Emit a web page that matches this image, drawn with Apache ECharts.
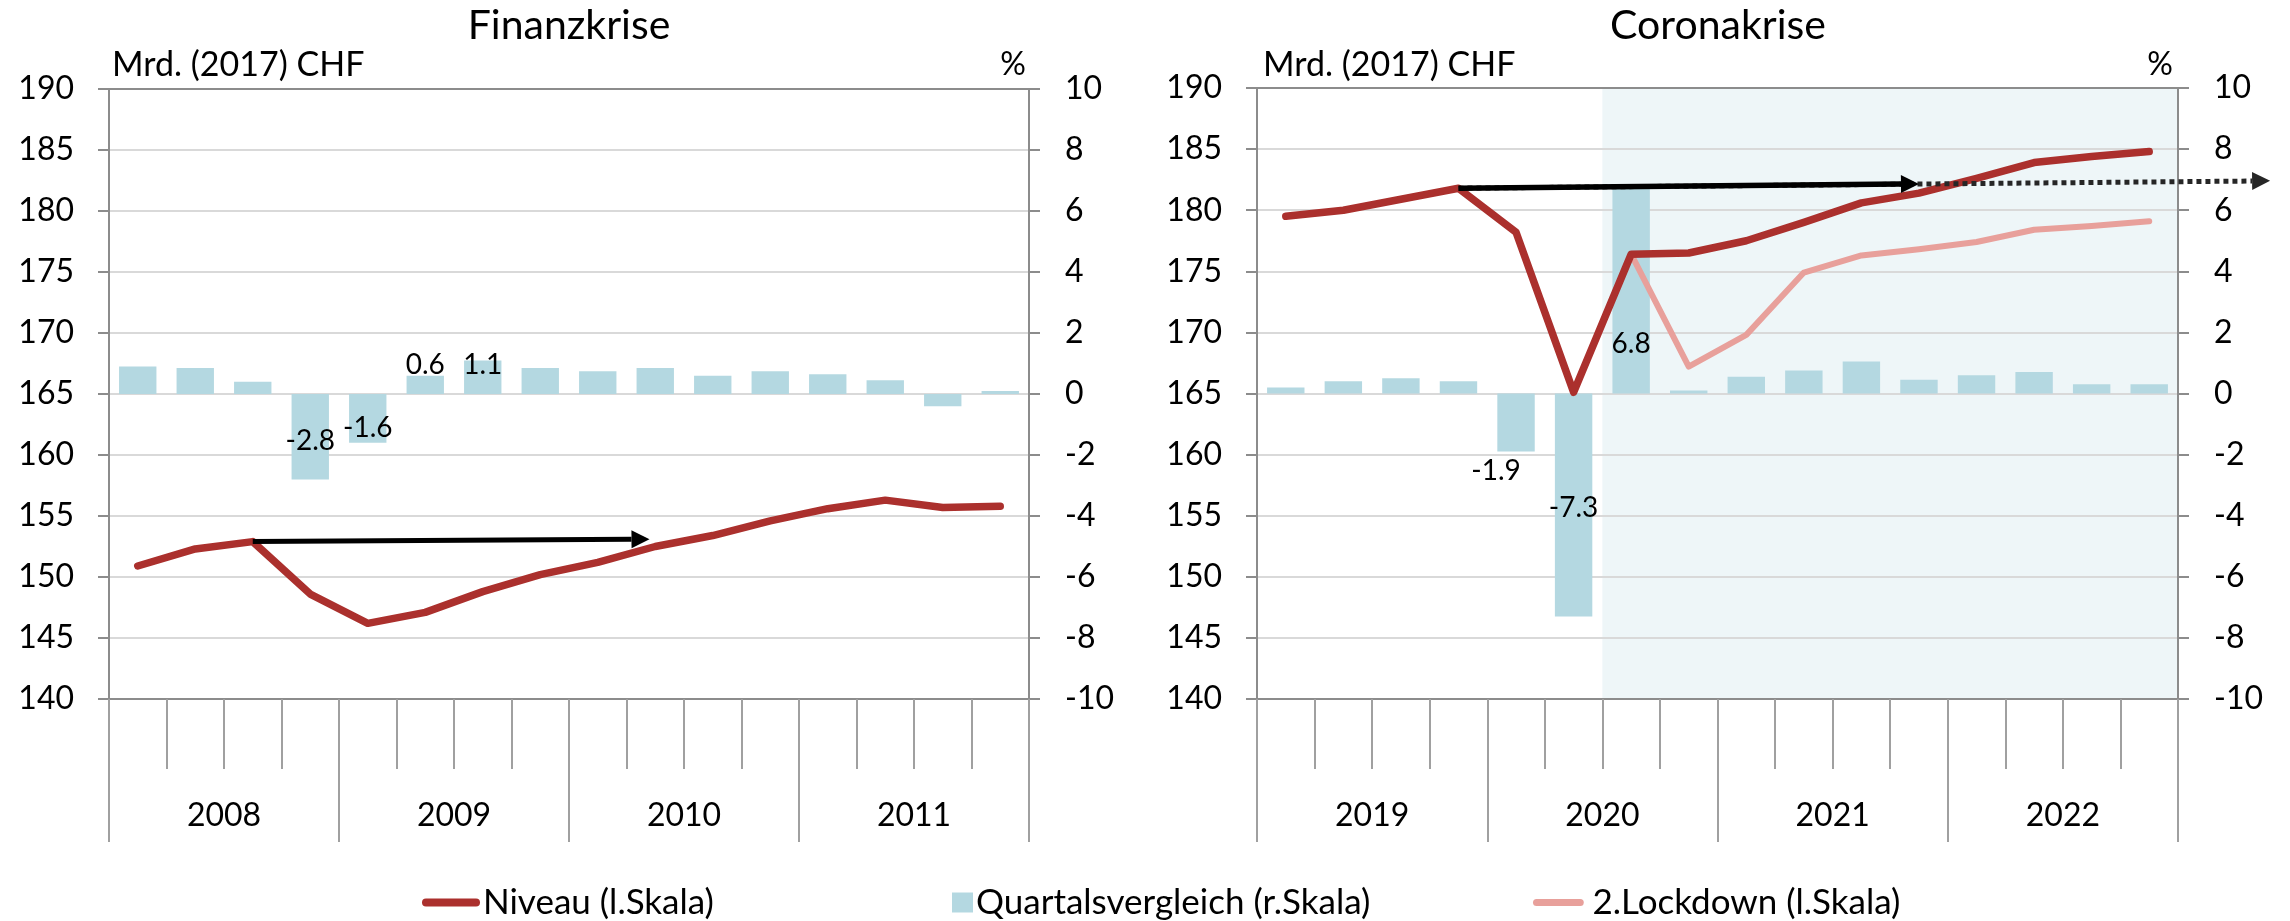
<!DOCTYPE html>
<html lang="de">
<head>
  <meta charset="utf-8" />
  <script src="https://cdn.jsdelivr.net/npm/echarts@6.0.0/dist/echarts.min.js"></script>
</head>
<body style="margin: 0; background: #ffffff">
  <div id="container" style="width: 2290px; height: 921px"></div>
  <script type="text/javascript">
    // Finanzkrise 2008-2011
    var quartersFin = ['2008Q1', '2008Q2', '2008Q3', '2008Q4', '2009Q1', '2009Q2', '2009Q3', '2009Q4',
      '2010Q1', '2010Q2', '2010Q3', '2010Q4', '2011Q1', '2011Q2', '2011Q3', '2011Q4'];
    var yearsFin = ['2008', '2009', '2010', '2011'];
    var levelFin = [150.9, 152.3, 152.9, 148.6, 146.2, 147.1, 148.8, 150.2, 151.2, 152.5, 153.4, 154.6, 155.6, 156.3, 155.7, 155.8];
    var growthFin = [0.9, 0.85, 0.4, -2.8, -1.6, 0.6, 1.1, 0.85, 0.75, 0.85, 0.6, 0.75, 0.65, 0.45, -0.4, 0.1];

    // Coronakrise 2019-2022
    var quartersCor = ['2019Q1', '2019Q2', '2019Q3', '2019Q4', '2020Q1', '2020Q2', '2020Q3', '2020Q4',
      '2021Q1', '2021Q2', '2021Q3', '2021Q4', '2022Q1', '2022Q2', '2022Q3', '2022Q4'];
    var yearsCor = ['2019', '2020', '2021', '2022'];
    var levelCor = [179.5, 180.0, 180.9, 181.8, 178.2, 165.1, 176.4, 176.5, 177.5, 179.0, 180.6, 181.4, 182.6, 183.9, 184.4, 184.8];
    var lockdownCor = [179.5, 180.0, 180.9, 181.8, null, null, 176.4, 167.2, 169.8, 174.9, 176.3, 176.8, 177.4, 178.4, 178.7, 179.1];
    var growthCor = [0.2, 0.4, 0.5, 0.4, -1.9, -7.3, 6.8, 0.1, 0.55, 0.75, 1.05, 0.45, 0.6, 0.7, 0.3, 0.3];

    // arrows: [quarter index, level]
    var arrowFin = [[2, 152.9], [8.9, 153.1]];
    var arrowCor = [[3, 181.8], [11.0, 182.15]];
    var arrowCorDotted = [[3, 181.8], [17.1, 182.4]];
    var shadeStartCor = '2020Q3';

    var NAME_LEVEL = 'Niveau (l.Skala)';
    var NAME_GROWTH = 'Quartalsvergleich (r.Skala)';
    var NAME_LOCK = '2.Lockdown (l.Skala)';

    var FONT = 'Lato';
    var RED = '#ab302d';
    var PINK = '#e8a09b';
    var BLUE = '#b4d8e1';
    var AXIS = '#8c8c8c';
    var GRID = '#d9d9d9';

    var dom = document.getElementById('container');
    var myChart = echarts.init(dom, null, { renderer: 'canvas' });

    function withLabels(values, offsets) {
      return values.map(function (v, i) {
        if (!offsets[i]) return v;
        return {
          value: v,
          label: { show: true, position: 'inside', offset: offsets[i] }
        };
      });
    }

    function quarterAxis(gridIndex, data) {
      return {
        type: 'category', gridIndex: gridIndex, data: data, position: 'bottom',
        boundaryGap: true,
        axisLine: { show: true, onZero: false, lineStyle: { color: AXIS, width: 2 } },
        axisTick: { show: true, interval: 0, length: 70, lineStyle: { color: '#a0a0a0', width: 2 } },
        axisLabel: { show: false },
        splitLine: { show: false }
      };
    }

    function yearAxis(gridIndex, data) {
      return {
        type: 'category', gridIndex: gridIndex, data: data, position: 'bottom',
        boundaryGap: true,
        axisLine: { show: false, onZero: false },
        axisTick: { show: true, interval: 0, length: 143, lineStyle: { color: '#a0a0a0', width: 2 } },
        axisLabel: { show: true, margin: 101, fontFamily: FONT, fontSize: 32, color: '#000' },
        splitLine: { show: false }
      };
    }

    function levelAxis(gridIndex) {
      return {
        type: 'value', gridIndex: gridIndex, position: 'left', min: 140, max: 190, interval: 5,
        axisLine: { show: true, lineStyle: { color: AXIS, width: 2 } },
        axisTick: { show: true, length: 11, lineStyle: { color: AXIS, width: 2 } },
        axisLabel: { margin: 35, fontFamily: FONT, fontSize: 32, color: '#000' },
        splitLine: { show: true, showMinLine: false, showMaxLine: false, lineStyle: { color: GRID, width: 2 } }
      };
    }

    function pctAxis(gridIndex) {
      return {
        type: 'value', gridIndex: gridIndex, position: 'right', min: -10, max: 10, interval: 2,
        axisLine: { show: true, lineStyle: { color: AXIS, width: 2 } },
        axisTick: { show: true, length: 11, lineStyle: { color: AXIS, width: 2 } },
        axisLabel: { margin: 36, fontFamily: FONT, fontSize: 32, color: '#000' },
        splitLine: { show: false }
      };
    }

    function dummyAxis(gridIndex) {
      return { type: 'value', gridIndex: gridIndex, show: false, min: 0, max: 1 };
    }

    var gridFin = { left: 109, top: 89, width: 920, height: 610 };
    var gridCor = { left: 1257, top: 88, width: 921, height: 611 };

    var barLabel = { show: false, fontFamily: FONT, fontSize: 28, color: '#000',
      formatter: function (p) { return p.value.toFixed(1); } };

    var lineStyleRed = { color: RED, width: 7.5, cap: 'round', join: 'round' };

    var legendBase = {
      top: 885, padding: 0, selectedMode: false,
      textStyle: { fontFamily: FONT, fontSize: 35, color: '#000', padding: [0, 0, 0, -2] }
    };
    var pillIcon = 'path://M4,0 H54 A4,4 0 0 1 54,8 H4 A4,4 0 0 1 4,0 Z';

    var option = {
      animation: false,
      backgroundColor: '#ffffff',
      textStyle: { fontFamily: FONT },
      grid: [
        Object.assign({ show: true, borderColor: AXIS, borderWidth: 2, backgroundColor: 'transparent' }, gridFin),
        Object.assign({ show: true, borderColor: AXIS, borderWidth: 2, backgroundColor: 'transparent' }, gridCor),
        Object.assign({ show: false }, gridFin),
        Object.assign({ show: false }, gridCor)
      ],
      xAxis: [
        quarterAxis(0, quartersFin),
        quarterAxis(1, quartersCor),
        yearAxis(2, yearsFin),
        yearAxis(3, yearsCor)
      ],
      yAxis: [
        levelAxis(0), pctAxis(0),
        levelAxis(1), pctAxis(1),
        dummyAxis(2), dummyAxis(3)
      ],
      legend: [
        Object.assign({ left: 422, data: [{ name: NAME_LEVEL, icon: pillIcon }], itemWidth: 58, itemHeight: 9 }, legendBase),
        Object.assign({ left: 952, data: [{ name: NAME_GROWTH, icon: 'rect' }], itemWidth: 21, itemHeight: 20 }, legendBase),
        Object.assign({ left: 1533, data: [{ name: NAME_LOCK, icon: pillIcon }], itemWidth: 62, itemHeight: 7 }, legendBase)
      ],
      graphic: [
        { type: 'text', x: 569, y: 26, style: { text: 'Finanzkrise', font: '41px ' + FONT, fill: '#000', textAlign: 'center', textVerticalAlign: 'middle' } },
        { type: 'text', x: 1718, y: 26, style: { text: 'Coronakrise', font: '41px ' + FONT, fill: '#000', textAlign: 'center', textVerticalAlign: 'middle' } },
        { type: 'text', x: 112, y: 65, style: { text: 'Mrd. (2017) CHF', font: '34px ' + FONT, fill: '#000', textAlign: 'left', textVerticalAlign: 'middle' } },
        { type: 'text', x: 1263, y: 65, style: { text: 'Mrd. (2017) CHF', font: '34px ' + FONT, fill: '#000', textAlign: 'left', textVerticalAlign: 'middle' } },
        { type: 'text', x: 1026, y: 65, style: { text: '%', font: '32px ' + FONT, fill: '#000', textAlign: 'right', textVerticalAlign: 'middle' } },
        { type: 'text', x: 2173, y: 65, style: { text: '%', font: '32px ' + FONT, fill: '#000', textAlign: 'right', textVerticalAlign: 'middle' } }
      ],
      series: [
        {
          name: NAME_GROWTH, type: 'bar', xAxisIndex: 0, yAxisIndex: 1, barWidth: '65%',
          itemStyle: { color: BLUE }, label: barLabel,
          data: withLabels(growthFin, { 3: [0, 4], 4: [0, 10], 5: [0, -20], 6: [0, -12] })
        },
        {
          name: NAME_GROWTH, type: 'bar', xAxisIndex: 1, yAxisIndex: 3, barWidth: '65%',
          itemStyle: { color: BLUE }, label: barLabel,
          data: withLabels(growthCor, { 4: [-20, 48], 5: [0, 3], 6: [0, 54] })
        },
        {
          name: NAME_LEVEL, type: 'line', xAxisIndex: 0, yAxisIndex: 0, symbol: 'none', z: 4,
          itemStyle: { color: RED }, lineStyle: lineStyleRed, data: levelFin
        },
        {
          name: NAME_LOCK, type: 'line', xAxisIndex: 1, yAxisIndex: 2, symbol: 'none', z: 3,
          connectNulls: false,
          itemStyle: { color: PINK }, lineStyle: { color: PINK, width: 6, cap: 'round', join: 'round' }, data: lockdownCor
        },
        {
          name: NAME_LEVEL, type: 'line', xAxisIndex: 1, yAxisIndex: 2, symbol: 'none', z: 4,
          itemStyle: { color: RED }, lineStyle: lineStyleRed, data: levelCor
        }
      ]
    };

    myChart.setOption(option);

    // overlays: shaded lockdown period and arrows, placed through the axes
    function xPix(axisIndex, f) {
      var p0 = myChart.convertToPixel({ xAxisIndex: axisIndex }, 0);
      var p1 = myChart.convertToPixel({ xAxisIndex: axisIndex }, 1);
      return p0 + f * (p1 - p0);
    }
    function yPix(axisIndex, v) {
      return myChart.convertToPixel({ yAxisIndex: axisIndex }, v);
    }

    function arrow(x1, y1, x2, y2, color, width, dash, head) {
      var dx = x2 - x1, dy = y2 - y1;
      var len = Math.sqrt(dx * dx + dy * dy);
      var ux = dx / len, uy = dy / len;
      var bx = x2 - ux * head, by = y2 - uy * head;
      var hw = head * 0.5;
      return [
        { type: 'line', z: 10, shape: { x1: x1, y1: y1, x2: bx, y2: by },
          style: { stroke: color, lineWidth: width, lineDash: dash } },
        { type: 'polygon', z: 10,
          shape: { points: [[x2, y2], [bx - uy * hw, by + ux * hw], [bx + uy * hw, by - ux * hw]] },
          style: { fill: color } }
      ];
    }

    function arrowFrom(def, xAxisIndex, yAxisIndex, color, width, dash, head) {
      return arrow(
        xPix(xAxisIndex, def[0][0]), yPix(yAxisIndex, def[0][1]),
        xPix(xAxisIndex, def[1][0]), yPix(yAxisIndex, def[1][1]),
        color, width, dash, head);
    }

    var shadeIdx = quartersCor.indexOf(shadeStartCor);
    var shadeLeft = xPix(1, shadeIdx - 0.5);
    var shadeRight = xPix(1, quartersCor.length - 0.5);
    var shadeTop = yPix(2, 190);
    var shadeBottom = yPix(2, 140);

    var overlays = [
      { type: 'rect', z: -1, shape: { x: shadeLeft, y: shadeTop, width: shadeRight - shadeLeft, height: shadeBottom - shadeTop },
        style: { fill: '#eef6f8' } }
    ]
      .concat(arrowFrom(arrowCorDotted, 1, 2, '#262626', 5, [5, 4], 18))
      .concat(arrowFrom(arrowFin, 0, 0, '#000', 5, null, 18))
      .concat(arrowFrom(arrowCor, 1, 2, '#000', 5.5, null, 18));

    myChart.setOption({ graphic: option.graphic.concat(overlays) });

    window.addEventListener('resize', myChart.resize);
  </script>
</body>
</html>
